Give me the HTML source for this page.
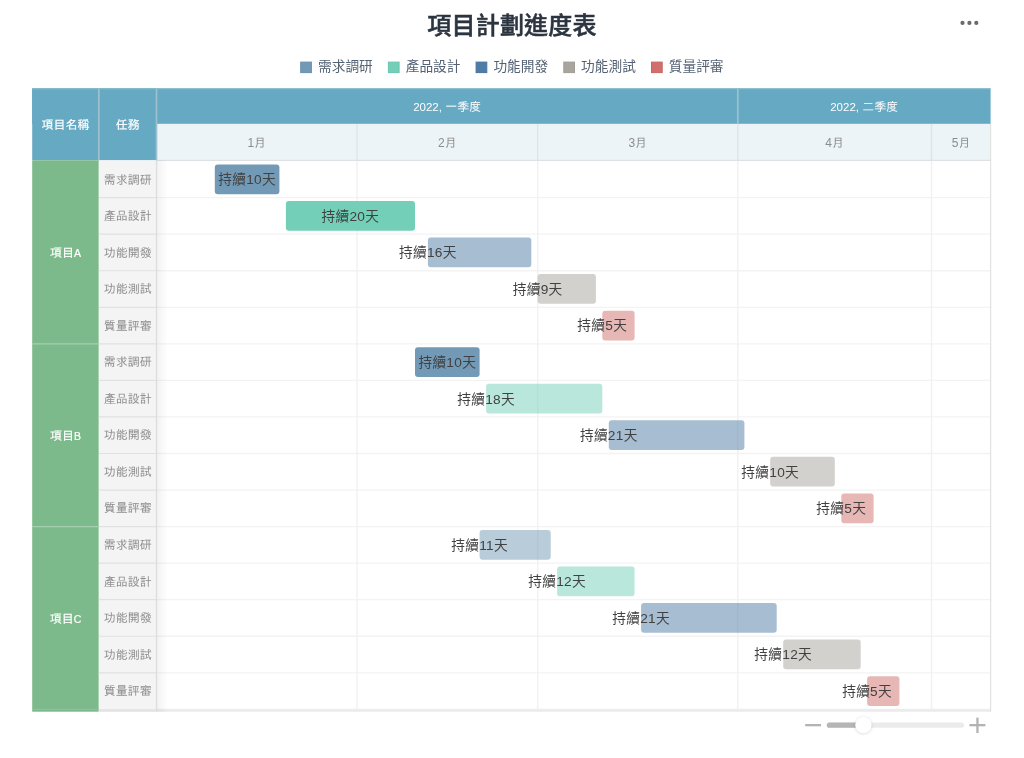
<!DOCTYPE html><html lang="zh-Hant"><head><meta charset="utf-8"><title>項目計劃進度表</title><style>
html,body{margin:0;padding:0;}
body{width:1024px;height:758px;position:relative;overflow:hidden;background:#fff;font-family:"Liberation Sans","Noto Sans CJK TC",sans-serif;}
.abs{position:absolute;}
svg{position:absolute;left:0;top:0;}
.title{left:0;width:1024px;top:8px;text-align:center;font-size:24px;font-weight:500;-webkit-text-stroke:0.5px #2b3440;color:#2b3440;line-height:36px;letter-spacing:0.2px;}
.lg{top:56px;height:22px;line-height:22px;font-size:13.7px;color:#546274;white-space:nowrap;}
.tbl div{position:absolute;font-family:"Liberation Sans","IPAGothic",sans-serif;font-size:12px;text-align:center;white-space:nowrap;}
.tbl .hd{color:#fff;}
.tbl .b{font-weight:normal;-webkit-text-stroke:0.2px #fff;}
.tbl .mon{color:#8c8c8c;}
.tbl .task{color:#8e8e8e;}
.tbl .n{font-size:11.5px;}
.tbl .b .n{font-size:10.5px;}
.tbl .lab{font-family:"Liberation Sans","Noto Sans CJK TC",sans-serif;font-size:13.7px;color:#414141;width:100px;letter-spacing:0.3px;}
</style></head><body>
<svg width="1024" height="758" viewBox="0 0 1024 758">
<defs><linearGradient id="sh" x1="0" x2="1" y1="0" y2="0"><stop offset="0" stop-color="#000" stop-opacity="0.05"/><stop offset="1" stop-color="#000" stop-opacity="0"/></linearGradient>
<filter id="ts" x="-50%" y="-50%" width="200%" height="200%"><feGaussianBlur stdDeviation="1.6"/></filter></defs>
<circle cx="962.5" cy="22.9" r="2.1" fill="#6b6b6b"/>
<circle cx="969.4" cy="22.9" r="2.1" fill="#6b6b6b"/>
<circle cx="976.3" cy="22.9" r="2.1" fill="#6b6b6b"/>
<rect x="300.7" y="62.1" width="10.7" height="10.5" fill="#729ab6" stroke="#6a91b0" stroke-width="1"/>
<rect x="388.4" y="62.1" width="10.7" height="10.5" fill="#74cfb8" stroke="#6bc6af" stroke-width="1"/>
<rect x="476.1" y="62.1" width="10.7" height="10.5" fill="#4d7ca6" stroke="#46749e" stroke-width="1"/>
<rect x="563.8" y="62.1" width="10.7" height="10.5" fill="#a8a49e" stroke="#a09c96" stroke-width="1"/>
<rect x="651.5" y="62.1" width="10.7" height="10.5" fill="#d06f6d" stroke="#c96562" stroke-width="1"/>
<rect x="32.2" y="88.3" width="958.4" height="35.6" fill="#66a9c3"/>
<rect x="32.2" y="88.3" width="124.3" height="72.0" fill="#66a9c3"/>
<rect x="156.5" y="123.9" width="834.1" height="36.4" fill="#edf4f7"/>
<rect x="32.2" y="160.3" width="66.6" height="551.4" fill="#7dba8b"/>
<rect x="98.8" y="160.3" width="57.7" height="551.4" fill="#f4f4f4"/>
<rect x="98.8" y="709.1" width="57.7" height="2.7" fill="#e4e4e4"/>
<rect x="156.5" y="708.8" width="834.1" height="3.0" fill="#ececec"/>
<line x1="156.5" x2="990.6" y1="197.65" y2="197.65" stroke="#f3f3f3" stroke-width="1.3"/>
<line x1="156.5" x2="990.6" y1="234.20" y2="234.20" stroke="#f3f3f3" stroke-width="1.3"/>
<line x1="156.5" x2="990.6" y1="270.75" y2="270.75" stroke="#f3f3f3" stroke-width="1.3"/>
<line x1="156.5" x2="990.6" y1="307.30" y2="307.30" stroke="#f3f3f3" stroke-width="1.3"/>
<line x1="156.5" x2="990.6" y1="343.85" y2="343.85" stroke="#f3f3f3" stroke-width="1.3"/>
<line x1="156.5" x2="990.6" y1="380.40" y2="380.40" stroke="#f3f3f3" stroke-width="1.3"/>
<line x1="156.5" x2="990.6" y1="416.95" y2="416.95" stroke="#f3f3f3" stroke-width="1.3"/>
<line x1="156.5" x2="990.6" y1="453.50" y2="453.50" stroke="#f3f3f3" stroke-width="1.3"/>
<line x1="156.5" x2="990.6" y1="490.05" y2="490.05" stroke="#f3f3f3" stroke-width="1.3"/>
<line x1="156.5" x2="990.6" y1="526.60" y2="526.60" stroke="#f3f3f3" stroke-width="1.3"/>
<line x1="156.5" x2="990.6" y1="563.15" y2="563.15" stroke="#f3f3f3" stroke-width="1.3"/>
<line x1="156.5" x2="990.6" y1="599.70" y2="599.70" stroke="#f3f3f3" stroke-width="1.3"/>
<line x1="156.5" x2="990.6" y1="636.25" y2="636.25" stroke="#f3f3f3" stroke-width="1.3"/>
<line x1="156.5" x2="990.6" y1="672.80" y2="672.80" stroke="#f3f3f3" stroke-width="1.3"/>
<line x1="357.0" x2="357.0" y1="160.35" y2="709.4" stroke="#f1f1f1" stroke-width="1.4"/>
<line x1="357.0" x2="357.0" y1="123.9" y2="160.35" stroke="#dfe3e5" stroke-width="1.3"/>
<line x1="537.7" x2="537.7" y1="160.35" y2="709.4" stroke="#f1f1f1" stroke-width="1.4"/>
<line x1="537.7" x2="537.7" y1="123.9" y2="160.35" stroke="#dfe3e5" stroke-width="1.3"/>
<line x1="737.8" x2="737.8" y1="160.35" y2="709.4" stroke="#f1f1f1" stroke-width="1.4"/>
<line x1="737.8" x2="737.8" y1="123.9" y2="160.35" stroke="#dfe3e5" stroke-width="1.3"/>
<line x1="931.5" x2="931.5" y1="160.35" y2="709.4" stroke="#f1f1f1" stroke-width="1.4"/>
<line x1="931.5" x2="931.5" y1="123.9" y2="160.35" stroke="#dfe3e5" stroke-width="1.3"/>
<line x1="156.5" x2="990.6" y1="160.45" y2="160.45" stroke="#dde1e3" stroke-width="1.2"/>
<line x1="990.6" x2="990.6" y1="123.9" y2="711.7" stroke="#e2e2e2" stroke-width="1.2"/>
<line x1="98.8" x2="98.8" y1="88.3" y2="160.3" stroke="#9dc2cf" stroke-width="1.7"/>
<line x1="156.5" x2="156.5" y1="88.3" y2="160.3" stroke="#9dc2cf" stroke-width="1.7"/>
<line x1="737.8" x2="737.8" y1="88.3" y2="123.9" stroke="#9dc2cf" stroke-width="1.7"/>
<line x1="32.2" x2="990.6" y1="88.8" y2="88.8" stroke="#8fbccc" stroke-width="1"/>
<line x1="98.8" x2="156.5" y1="197.65" y2="197.65" stroke="#e1e1e1" stroke-width="1.2"/>
<line x1="98.8" x2="156.5" y1="234.20" y2="234.20" stroke="#e1e1e1" stroke-width="1.2"/>
<line x1="98.8" x2="156.5" y1="270.75" y2="270.75" stroke="#e1e1e1" stroke-width="1.2"/>
<line x1="98.8" x2="156.5" y1="307.30" y2="307.30" stroke="#e1e1e1" stroke-width="1.2"/>
<line x1="98.8" x2="156.5" y1="343.85" y2="343.85" stroke="#e1e1e1" stroke-width="1.2"/>
<line x1="98.8" x2="156.5" y1="380.40" y2="380.40" stroke="#e1e1e1" stroke-width="1.2"/>
<line x1="98.8" x2="156.5" y1="416.95" y2="416.95" stroke="#e1e1e1" stroke-width="1.2"/>
<line x1="98.8" x2="156.5" y1="453.50" y2="453.50" stroke="#e1e1e1" stroke-width="1.2"/>
<line x1="98.8" x2="156.5" y1="490.05" y2="490.05" stroke="#e1e1e1" stroke-width="1.2"/>
<line x1="98.8" x2="156.5" y1="526.60" y2="526.60" stroke="#e1e1e1" stroke-width="1.2"/>
<line x1="98.8" x2="156.5" y1="563.15" y2="563.15" stroke="#e1e1e1" stroke-width="1.2"/>
<line x1="98.8" x2="156.5" y1="599.70" y2="599.70" stroke="#e1e1e1" stroke-width="1.2"/>
<line x1="98.8" x2="156.5" y1="636.25" y2="636.25" stroke="#e1e1e1" stroke-width="1.2"/>
<line x1="98.8" x2="156.5" y1="672.80" y2="672.80" stroke="#e1e1e1" stroke-width="1.2"/>
<line x1="156.5" x2="156.5" y1="160.3" y2="711.7" stroke="#dedede" stroke-width="1.3"/>
<line x1="32.2" x2="98.8" y1="343.85" y2="343.85" stroke="#a5d0af" stroke-width="1.2"/>
<line x1="32.2" x2="98.8" y1="526.60" y2="526.60" stroke="#a5d0af" stroke-width="1.2"/>
<line x1="32.2" x2="98.8" y1="709.35" y2="709.35" stroke="#93c79f" stroke-width="0.8"/>
<rect x="157.1" y="160.35" width="10.5" height="551.4" fill="url(#sh)"/>
<rect x="214.8" y="164.45" width="64.6" height="29.75" rx="3" fill="#729ab6" fill-opacity="1"/>
<rect x="285.9" y="201.00" width="129.1" height="29.75" rx="3" fill="#74cfb8" fill-opacity="1"/>
<rect x="427.9" y="237.55" width="103.4" height="29.75" rx="3" fill="#4d7ca6" fill-opacity="0.5"/>
<rect x="537.7" y="274.10" width="58.2" height="29.75" rx="3" fill="#a8a49e" fill-opacity="0.5"/>
<rect x="602.3" y="310.65" width="32.3" height="29.75" rx="3" fill="#d06f6d" fill-opacity="0.5"/>
<rect x="415.0" y="347.20" width="64.6" height="29.75" rx="3" fill="#729ab6" fill-opacity="1"/>
<rect x="486.1" y="383.75" width="116.2" height="29.75" rx="3" fill="#74cfb8" fill-opacity="0.5"/>
<rect x="608.8" y="420.30" width="135.6" height="29.75" rx="3" fill="#4d7ca6" fill-opacity="0.5"/>
<rect x="770.2" y="456.85" width="64.6" height="29.75" rx="3" fill="#a8a49e" fill-opacity="0.5"/>
<rect x="841.3" y="493.40" width="32.3" height="29.75" rx="3" fill="#d06f6d" fill-opacity="0.5"/>
<rect x="479.6" y="529.95" width="71.1" height="29.75" rx="3" fill="#729ab6" fill-opacity="0.5"/>
<rect x="557.1" y="566.50" width="77.5" height="29.75" rx="3" fill="#74cfb8" fill-opacity="0.5"/>
<rect x="641.1" y="603.05" width="135.6" height="29.75" rx="3" fill="#4d7ca6" fill-opacity="0.5"/>
<rect x="783.2" y="639.60" width="77.5" height="29.75" rx="3" fill="#a8a49e" fill-opacity="0.5"/>
<rect x="867.1" y="676.15" width="32.3" height="29.75" rx="3" fill="#d06f6d" fill-opacity="0.5"/>
<rect x="805.2" y="724" width="15.8" height="2.3" fill="#b3b3b3"/>
<rect x="826.8" y="722.6" width="137.2" height="5.2" rx="2.6" fill="#ebebeb"/>
<rect x="826.8" y="722.6" width="38" height="5.2" rx="2.6" fill="#b5b5b5"/>
<circle cx="863.4" cy="725.6" r="8.2" fill="#000" fill-opacity="0.16" filter="url(#ts)"/>
<circle cx="863.4" cy="725.1" r="8.2" fill="#fff"/>
<rect x="969.4" y="724" width="16" height="2.3" fill="#b3b3b3"/>
<rect x="976.3" y="717.6" width="2.3" height="15.4" fill="#b3b3b3"/>
</svg>
<div class="abs title">項目計劃進度表</div>
<div class="abs lg" style="left:318.0px">需求調研</div>
<div class="abs lg" style="left:405.7px">產品設計</div>
<div class="abs lg" style="left:493.4px">功能開發</div>
<div class="abs lg" style="left:581.1px">功能測試</div>
<div class="abs lg" style="left:668.8px">質量評審</div>
<div class="tbl">
<div class="hd b" style="left:32.2px;width:66.6px;top:114.6px;height:20px;line-height:20px;">項目名稱</div>
<div class="hd b" style="left:98.8px;width:57.7px;top:114.6px;height:20px;line-height:20px;">任務</div>
<div class="hd" style="left:156.5px;width:581.3px;top:96.8px;height:20px;line-height:20px;"><span class="n">2022, </span>一季度</div>
<div class="hd" style="left:737.8px;width:252.8px;top:96.8px;height:20px;line-height:20px;"><span class="n">2022, </span>二季度</div>
<div class="mon" style="left:156.5px;width:200.5px;top:132.8px;height:20px;line-height:20px;">1月</div>
<div class="mon" style="left:357.0px;width:180.7px;top:132.8px;height:20px;line-height:20px;">2月</div>
<div class="mon" style="left:537.7px;width:200.1px;top:132.8px;height:20px;line-height:20px;">3月</div>
<div class="mon" style="left:737.8px;width:193.7px;top:132.8px;height:20px;line-height:20px;">4月</div>
<div class="mon" style="left:931.5px;width:59.1px;top:132.8px;height:20px;line-height:20px;">5月</div>
<div class="task" style="left:98.8px;width:57.7px;top:169.5px;height:20px;line-height:20px;">需求調研</div>
<div class="task" style="left:98.8px;width:57.7px;top:206.0px;height:20px;line-height:20px;">產品設計</div>
<div class="task" style="left:98.8px;width:57.7px;top:242.6px;height:20px;line-height:20px;">功能開發</div>
<div class="task" style="left:98.8px;width:57.7px;top:279.1px;height:20px;line-height:20px;">功能測試</div>
<div class="task" style="left:98.8px;width:57.7px;top:315.7px;height:20px;line-height:20px;">質量評審</div>
<div class="task" style="left:98.8px;width:57.7px;top:352.2px;height:20px;line-height:20px;">需求調研</div>
<div class="task" style="left:98.8px;width:57.7px;top:388.8px;height:20px;line-height:20px;">產品設計</div>
<div class="task" style="left:98.8px;width:57.7px;top:425.3px;height:20px;line-height:20px;">功能開發</div>
<div class="task" style="left:98.8px;width:57.7px;top:461.9px;height:20px;line-height:20px;">功能測試</div>
<div class="task" style="left:98.8px;width:57.7px;top:498.4px;height:20px;line-height:20px;">質量評審</div>
<div class="task" style="left:98.8px;width:57.7px;top:535.0px;height:20px;line-height:20px;">需求調研</div>
<div class="task" style="left:98.8px;width:57.7px;top:571.5px;height:20px;line-height:20px;">產品設計</div>
<div class="task" style="left:98.8px;width:57.7px;top:608.1px;height:20px;line-height:20px;">功能開發</div>
<div class="task" style="left:98.8px;width:57.7px;top:644.6px;height:20px;line-height:20px;">功能測試</div>
<div class="task" style="left:98.8px;width:57.7px;top:681.2px;height:20px;line-height:20px;">質量評審</div>
<div class="hd b" style="left:32.2px;width:66.6px;top:243.4px;height:20px;line-height:20px;">項目<span class="n">A</span></div>
<div class="hd b" style="left:32.2px;width:66.6px;top:426.1px;height:20px;line-height:20px;">項目<span class="n">B</span></div>
<div class="hd b" style="left:32.2px;width:66.6px;top:608.9px;height:20px;line-height:20px;">項目<span class="n">C</span></div>
<div class="lab" style="left:197.1px;width:100.0px;top:169.2px;height:22px;line-height:22px;">持續10天</div>
<div class="lab" style="left:300.4px;width:100.0px;top:205.8px;height:22px;line-height:22px;">持續20天</div>
<div class="lab" style="left:377.9px;width:100.0px;top:242.3px;height:22px;line-height:22px;">持續16天</div>
<div class="lab" style="left:487.7px;width:100.0px;top:278.9px;height:22px;line-height:22px;">持續9天</div>
<div class="lab" style="left:552.3px;width:100.0px;top:315.4px;height:22px;line-height:22px;">持續5天</div>
<div class="lab" style="left:397.3px;width:100.0px;top:352.0px;height:22px;line-height:22px;">持續10天</div>
<div class="lab" style="left:436.1px;width:100.0px;top:388.5px;height:22px;line-height:22px;">持續18天</div>
<div class="lab" style="left:558.8px;width:100.0px;top:425.1px;height:22px;line-height:22px;">持續21天</div>
<div class="lab" style="left:720.2px;width:100.0px;top:461.6px;height:22px;line-height:22px;">持續10天</div>
<div class="lab" style="left:791.3px;width:100.0px;top:498.2px;height:22px;line-height:22px;">持續5天</div>
<div class="lab" style="left:429.6px;width:100.0px;top:534.8px;height:22px;line-height:22px;">持續11天</div>
<div class="lab" style="left:507.1px;width:100.0px;top:571.3px;height:22px;line-height:22px;">持續12天</div>
<div class="lab" style="left:591.1px;width:100.0px;top:607.8px;height:22px;line-height:22px;">持續21天</div>
<div class="lab" style="left:733.2px;width:100.0px;top:644.4px;height:22px;line-height:22px;">持續12天</div>
<div class="lab" style="left:817.1px;width:100.0px;top:680.9px;height:22px;line-height:22px;">持續5天</div>
</div>
</body></html>
